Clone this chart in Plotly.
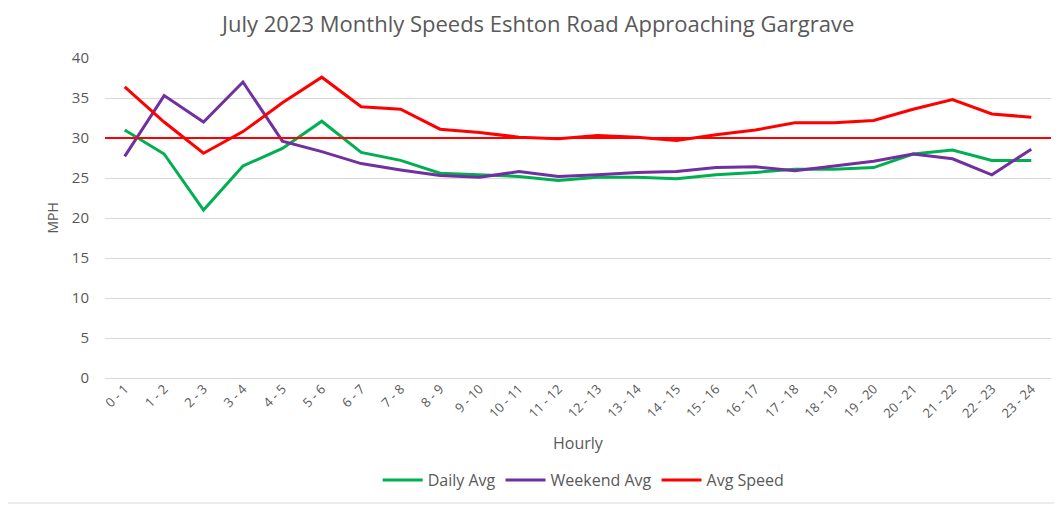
import plotly.graph_objects as go

hours = ["0 - 1", "1 - 2", "2 - 3", "3 - 4", "4 - 5", "5 - 6", "6 - 7", "7 - 8", "8 - 9",
         "9 - 10", "10 - 11", "11 - 12", "12 - 13", "13 - 14", "14 - 15", "15 - 16",
         "16 - 17", "17 - 18", "18 - 19", "19 - 20", "20 - 21", "21 - 22", "22 - 23", "23 - 24"]

daily_avg = [31.0, 28.0, 21.0, 26.5, 28.7, 32.1, 28.2, 27.2, 25.6, 25.4, 25.2, 24.7,
             25.1, 25.1, 24.9, 25.4, 25.7, 26.1, 26.1, 26.3, 28.0, 28.5, 27.2, 27.2]
weekend_avg = [27.7, 35.3, 32.0, 37.0, 29.6, 28.3, 26.8, 26.0, 25.3, 25.1, 25.8, 25.2,
               25.4, 25.7, 25.8, 26.3, 26.4, 25.9, 26.5, 27.1, 28.0, 27.4, 25.4, 28.6]
avg_speed = [36.4, 32.0, 28.1, 30.8, 34.4, 37.6, 33.9, 33.6, 31.1, 30.7, 30.1, 29.9,
             30.3, 30.1, 29.7, 30.4, 31.0, 31.9, 31.9, 32.2, 33.6, 34.8, 33.0, 32.6]
speed_limit = 30

FONT = "Open Sans"
GREY = "#595959"

fig = go.Figure()
fig.add_trace(go.Scatter(x=hours, y=daily_avg, mode="lines", name="Daily Avg",
                         line=dict(color="#00B050", width=3)))
fig.add_trace(go.Scatter(x=hours, y=weekend_avg, mode="lines", name="Weekend Avg",
                         line=dict(color="#7030A0", width=3)))
fig.add_trace(go.Scatter(x=hours, y=avg_speed, mode="lines", name="Avg Speed",
                         line=dict(color="#FF0000", width=3)))

# speed limit reference line across the full plot width
fig.add_shape(type="line", xref="paper", yref="y", x0=0, x1=1,
              y0=speed_limit, y1=speed_limit,
              line=dict(color="#FF0000", width=2), layer="above")

# chart border
fig.add_shape(type="rect", xref="paper", yref="paper",
              x0=-0.1066, x1=1.0128, y0=-0.3906, y1=1.1719,
              line=dict(color="#D9D9D9", width=1), fillcolor="rgba(0,0,0,0)")

fig.add_annotation(text="Hourly", xref="paper", yref="paper", x=0.5, y=-0.203,
                   xanchor="center", yanchor="middle",
                   showarrow=False, font=dict(family=FONT, size=16, color=GREY))
fig.add_annotation(text="MPH", xref="paper", yref="paper", x=-0.0565, y=0.5,
                   xanchor="center", yanchor="middle",
                   textangle=-90, showarrow=False, font=dict(family=FONT, size=14, color=GREY))

fig.update_layout(
    width=1054, height=500,
    margin=dict(l=97, r=11, t=50, b=122),
    paper_bgcolor="white", plot_bgcolor="white",
    title=dict(text="July 2023 Monthly Speeds Eshton Road Approaching Gargrave",
               x=0.503, xref="container", y=0.968, yref="container",
               xanchor="center", yanchor="middle",
               font=dict(family=FONT, size=22, color=GREY)),
    showlegend=True,
    legend=dict(orientation="h", x=0.506, xanchor="center", y=-0.319, yanchor="middle",
                font=dict(family=FONT, size=16, color=GREY), itemwidth=40),
    xaxis=dict(type="category", range=[-0.5, 23.5], tickangle=-45, showgrid=False,
               showline=False, ticks="", tickfont=dict(family=FONT, size=13, color=GREY)),
    yaxis=dict(range=[0, 40], dtick=5, showgrid=True, gridcolor="#D9D9D9", gridwidth=1,
               zeroline=True, zerolinecolor="#D9D9D9", zerolinewidth=1, showline=False,
               ticks="", ticklabelstandoff=15,
               tickfont=dict(family=FONT, size=15, color=GREY)),
)

fig.write_html("out.html")
